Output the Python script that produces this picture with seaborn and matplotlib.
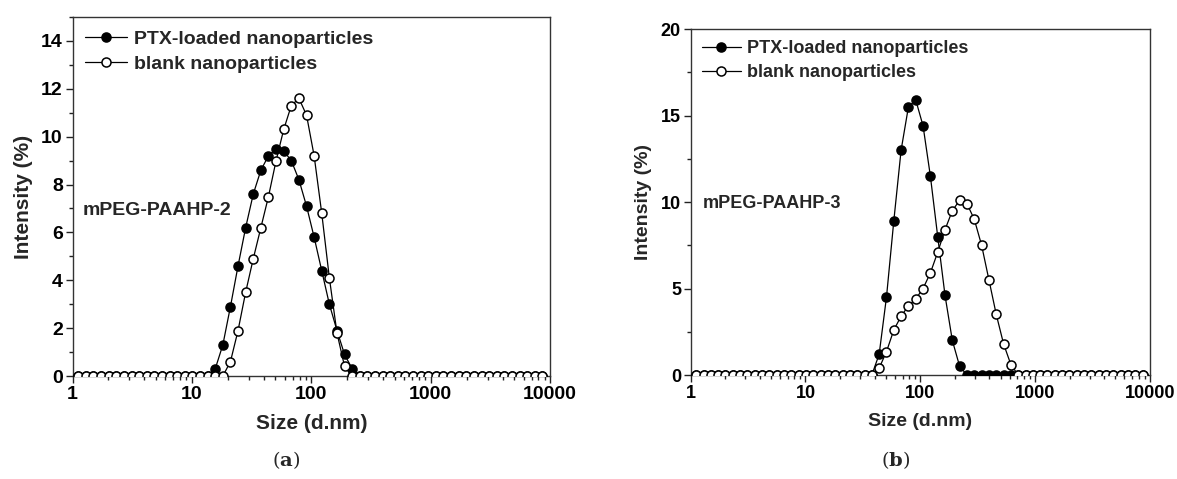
"""
Size distribution (DLS) of PTX-loaded vs blank nanoparticles, two panels.
"""
import matplotlib
matplotlib.use("Agg")
import matplotlib.pyplot as plt
import seaborn as sns
from matplotlib.ticker import AutoMinorLocator, FixedLocator

# DLS size bins (d.nm)
sizes = [1.117, 1.294, 1.499, 1.736, 2.010, 2.328, 2.696, 3.122, 3.615, 4.187,
         4.849, 5.615, 6.503, 7.531, 8.721, 10.10, 11.70, 13.54, 15.69, 18.17,
         21.04, 24.36, 28.21, 32.67, 37.84, 43.82, 50.75, 58.77, 68.06, 78.82,
         91.28, 105.7, 122.4, 141.8, 164.2, 190.1, 220.2, 255.0, 295.3, 342.0,
         396.1, 458.7, 531.2, 615.1, 712.4, 825.0, 955.4, 1106, 1281, 1484,
         1718, 1990, 2305, 2669, 3091, 3580, 4145, 4801, 5560, 6439, 7456, 8635]

# panel (a): mPEG-PAAHP-2
a_ptx = ([0.0] * 18
         + [0.3, 1.3, 2.9, 4.6, 6.2, 7.6, 8.6, 9.2, 9.5, 9.4, 9.0, 8.2, 7.1,
            5.8, 4.4, 3.0, 1.9, 0.9, 0.3]
         + [0.0] * 25)
a_blank = ([0.0] * 20
           + [0.6, 1.9, 3.5, 4.9, 6.2, 7.5, 9.0, 10.3, 11.3, 11.6, 10.9, 9.2,
              6.8, 4.1, 1.8, 0.4]
           + [0.0] * 26)

# panel (b): mPEG-PAAHP-3
b_ptx = ([0.0] * 25
         + [1.2, 4.5, 8.9, 13.0, 15.5, 15.9, 14.4, 11.5, 8.0, 4.6, 2.0, 0.5]
         + [0.0] * 25)
b_blank = ([0.0] * 25
           + [0.4, 1.35, 2.6, 3.4, 4.0, 4.4, 5.0, 5.9, 7.1, 8.4, 9.5, 10.1,
              9.9, 9.0, 7.5, 5.5, 3.5, 1.8, 0.6]
           + [0.0] * 18)

x_ticks = [1, 10, 100, 1000, 10000]
x_labels = ["1", "10", "100", "1000", "10000"]
series_names = ["PTX-loaded nanoparticles", "blank nanoparticles"]


def draw_panel(ax, ptx, blank, yticks, ymax, name, fs, leg_anchor, leg_space,
               name_pos):
    sns.lineplot(x=sizes, y=ptx, ax=ax, color="black", linewidth=0.9,
                 marker="o", markersize=6.5, markerfacecolor="black",
                 markeredgecolor="black", markeredgewidth=1.1,
                 label=series_names[0], zorder=3)
    sns.lineplot(x=sizes, y=blank, ax=ax, color="black", linewidth=0.9,
                 marker="o", markersize=6.5, markerfacecolor="white",
                 markeredgecolor="black", markeredgewidth=1.1,
                 label=series_names[1], zorder=4)
    ax.set_xscale("log")
    ax.set_xlim(1, 10000)
    ax.set_ylim(0, ymax)
    ax.xaxis.set_major_locator(FixedLocator(x_ticks))
    ax.set_xticklabels(x_labels)
    ax.set_yticks(yticks)
    ax.set_yticklabels([str(t) for t in yticks])
    ax.yaxis.set_minor_locator(AutoMinorLocator(2))
    ax.tick_params(which="both", direction="out", top=False, right=False,
                   labelsize=fs, width=1, colors="#222222", labelcolor="black")
    ax.tick_params(which="major", length=5, pad=2)
    ax.tick_params(which="minor", length=3)
    for lab in ax.get_xticklabels() + ax.get_yticklabels():
        lab.set_fontweight("bold")
    for sp in ax.spines.values():
        sp.set_visible(True)
        sp.set_color("#333333")
        sp.set_linewidth(1.0)
    ax.set_xlabel("Size (d.nm)", fontsize=fs + 1, fontweight="bold", labelpad=8)
    ax.set_ylabel("Intensity (%)", fontsize=fs + 1, fontweight="bold", labelpad=6)
    ax.legend(loc="upper left", bbox_to_anchor=leg_anchor, borderaxespad=0,
              borderpad=0, frameon=False, handlelength=2.15,
              handletextpad=0.35, labelspacing=leg_space, numpoints=1,
              prop={"weight": "bold", "size": fs})
    ax.text(name_pos[0], name_pos[1], name, transform=ax.transAxes,
            fontsize=fs, fontweight="bold", va="center", ha="left")


def main():
    sns.set_style("ticks")
    plt.rcParams["font.family"] = ["Liberation Sans", "DejaVu Sans"]
    plt.rcParams["mathtext.fontset"] = "dejavuserif"

    fig = plt.figure(figsize=(11.77, 4.79), dpi=100)
    ax_a = fig.add_axes([0.0616, 0.215, 0.4057, 0.7495])
    ax_b = fig.add_axes([0.5868, 0.2171, 0.3902, 0.7223])

    draw_panel(ax_a, a_ptx, a_blank, [0, 2, 4, 6, 8, 10, 12, 14], 15,
               "mPEG-PAAHP-2", 14, (0.026, 0.964), 0.41, (0.022, 0.462))
    draw_panel(ax_b, b_ptx, b_blank, [0, 5, 10, 15, 20], 20,
               "mPEG-PAAHP-3", 13, (0.024, 0.967), 0.39, (0.026, 0.496))

    fig.text(0.243, 0.04, r"($\mathbf{a}$)", family="DejaVu Serif",
             fontsize=14, ha="center", va="center")
    fig.text(0.761, 0.04, r"($\mathbf{b}$)", family="DejaVu Serif",
             fontsize=14, ha="center", va="center")

    fig.savefig("out.png", dpi=100)
    plt.close(fig)


if __name__ == "__main__":
    main()
